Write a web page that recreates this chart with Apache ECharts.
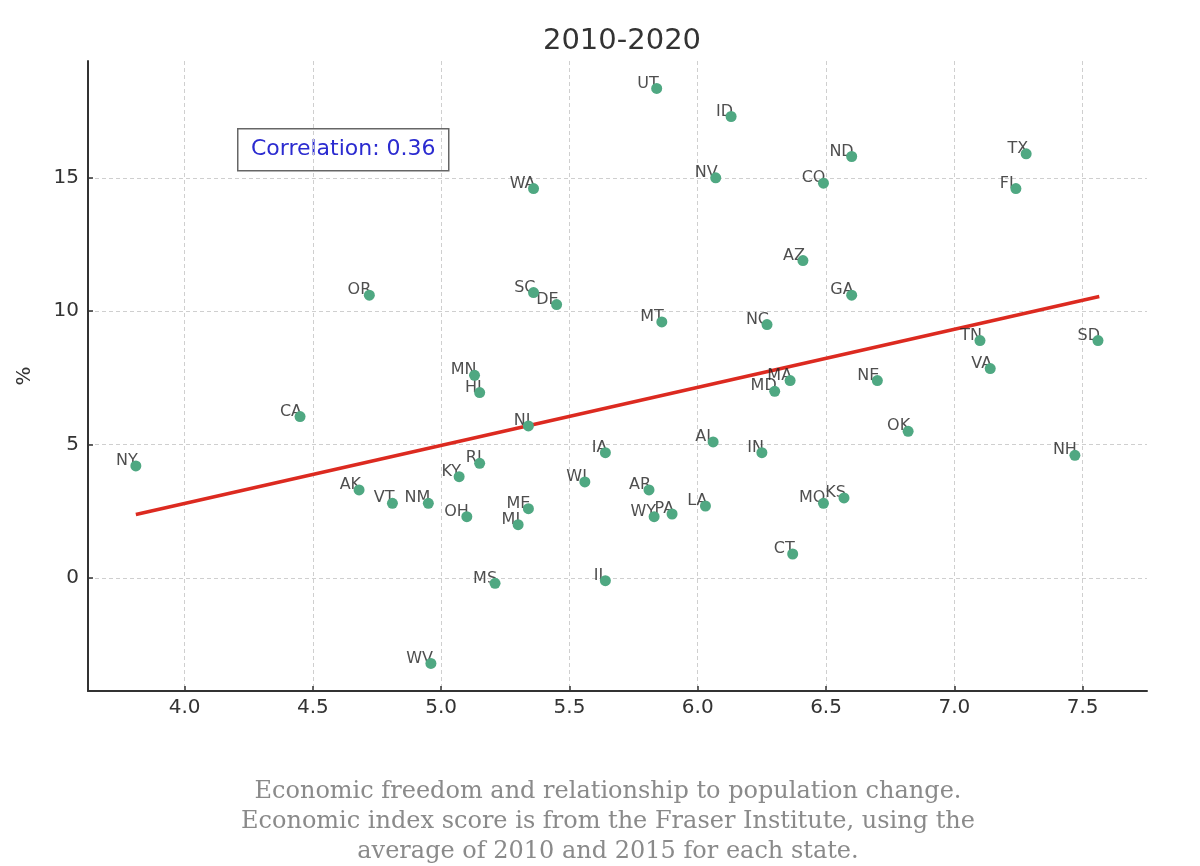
<!DOCTYPE html>
<html>
<head>
<meta charset="utf-8">
<script src="https://cdn.jsdelivr.net/npm/echarts@6/dist/echarts.min.js"></script>
<style>
  html, body { margin: 0; padding: 0; background: #fff; }
  #chart { width: 1200px; height: 866px; }
</style>
</head>
<body>
<div id="chart"></div>
<script>
// ---- Data ----
const states = ['UT','ID','ND','TX','NV','CO','FL','AZ','GA','MT','NC','TN','SD','VA','MA','MD','NE','OK','AL','IA','IN','NH','WI','AR','KS','MO','LA','PA','WY','CT','IL','MN','HI','CA','NJ','NY','RI','KY','AK','VT','NM','OH','ME','MI','MS','WV','WA','OR','SC','DE'];
const econIndex = [5.84,6.13,6.60,7.28,6.07,6.49,7.24,6.41,6.60,5.86,6.27,7.10,7.56,7.14,6.36,6.30,6.70,6.82,6.06,5.64,6.25,7.47,5.56,5.81,6.57,6.49,6.03,5.90,5.83,6.37,5.64,5.13,5.15,4.45,5.34,3.81,5.15,5.07,4.68,4.81,4.95,5.10,5.34,5.30,5.21,4.96,5.36,4.72,5.36,5.45];
const popChange = [18.35,17.3,15.8,15.9,15.0,14.8,14.6,11.9,10.6,9.6,9.5,8.9,8.9,7.85,7.4,7.0,7.4,5.5,5.1,4.7,4.7,4.6,3.6,3.3,3.0,2.8,2.7,2.4,2.3,0.9,-0.1,7.6,6.95,6.05,5.7,4.2,4.3,3.8,3.3,2.8,2.8,2.3,2.6,2.0,-0.2,-3.2,14.6,10.6,10.7,10.25];
const trendX = [3.81, 7.565];
const trendY = [2.38, 10.55];
const xTicks = [4.0, 4.5, 5.0, 5.5, 6.0, 6.5, 7.0, 7.5];
const yTicks = [0, 5, 10, 15];
const titleText = '2010-2020';
const corrText = 'Correlation: 0.36';
const captionLines = [
  'Economic freedom and relationship to population change.',
  'Economic index score is from the Fraser Institute, using the',
  'average of 2010 and 2015 for each state.'
];

const points = states.map((s, i) => [econIndex[i], popChange[i], s]);
const trend = trendX.map((x, i) => [x, trendY[i]]);

const chart = echarts.init(document.getElementById('chart'), null, { renderer: 'canvas' });
const font = 'DejaVu Sans';
const gridStyle = { color: '#cfcfcf', width: 1, type: [4, 3] };
const capFont = '24px "DejaVu Serif"';

chart.setOption({
  backgroundColor: '#ffffff',
  animation: false,
  title: {
    text: titleText,
    left: 617, top: 22, textAlign: 'center',
    textStyle: { fontFamily: font, fontSize: 29, fontWeight: 'normal', color: '#333333' }
  },
  grid: { left: 88, right: 53, top: 61, bottom: 175, containLabel: false },
  xAxis: {
    type: 'value', min: 3.6235, max: 7.751,
    axisLine: { show: true, onZero: false, lineStyle: { color: '#333333', width: 2 } },
    axisTick: { show: true, inside: true, length: 5, customValues: xTicks, lineStyle: { color: '#333333', width: 1.5 } },
    axisLabel: { customValues: xTicks, formatter: v => Number(v).toFixed(1), fontFamily: font, fontSize: 20, color: '#333333', margin: 7 },
    splitLine: { show: true, lineStyle: gridStyle }
  },
  yAxis: {
    type: 'value', min: -4.235, max: 19.38,
    name: '%', nameLocation: 'middle', nameGap: 53, nameRotate: 90,
    nameTextStyle: { fontFamily: font, fontSize: 20, color: '#333333' },
    axisLine: { show: true, onZero: false, lineStyle: { color: '#333333', width: 2 } },
    axisTick: { show: true, inside: true, length: 5, customValues: yTicks, lineStyle: { color: '#333333', width: 1.5 } },
    axisLabel: { customValues: yTicks, fontFamily: font, fontSize: 20, color: '#333333', margin: 9 },
    splitLine: { show: true, lineStyle: gridStyle }
  },
  series: [
    {
      type: 'line', data: trend, symbol: 'none', z: 1, silent: true,
      lineStyle: { color: '#dc2a20', width: 3.5 }
    },
    {
      type: 'scatter', data: points, symbolSize: 11, z: 2, silent: true,
      itemStyle: { color: 'rgba(0,0,0,0)' },
      label: {
        show: true, formatter: p => p.data[2],
        position: [7.5, 8.5], align: 'right', verticalAlign: 'bottom',
        fontFamily: font, fontSize: 16, color: '#222222'
      }
    },
    {
      type: 'scatter', data: points, symbolSize: 11, z: 3, silent: true,
      itemStyle: { color: '#4fa882', opacity: 1 }
    }
  ],
  graphic: [
    {
      type: 'group', left: 237, top: 128, z: 100,
      children: [
        { type: 'rect', shape: { x: 0, y: 0, width: 211, height: 42 }, style: { fill: 'rgba(255,255,255,0.8)', stroke: '#666666', lineWidth: 1.5 } },
        { type: 'text', x: 105.5, y: 21, style: { text: corrText, fill: '#2b2bd0', font: '22px "DejaVu Sans"', textAlign: 'center', textVerticalAlign: 'middle' } }
      ]
    },
    { type: 'text', x: 608, y: 792, style: { text: captionLines[0], fill: '#8a8a8a', font: capFont, textAlign: 'center', textVerticalAlign: 'middle' } },
    { type: 'text', x: 608, y: 822, style: { text: captionLines[1], fill: '#8a8a8a', font: capFont, textAlign: 'center', textVerticalAlign: 'middle' } },
    { type: 'text', x: 608, y: 852, style: { text: captionLines[2], fill: '#8a8a8a', font: capFont, textAlign: 'center', textVerticalAlign: 'middle' } }
  ]
});
</script>
</body>
</html>
